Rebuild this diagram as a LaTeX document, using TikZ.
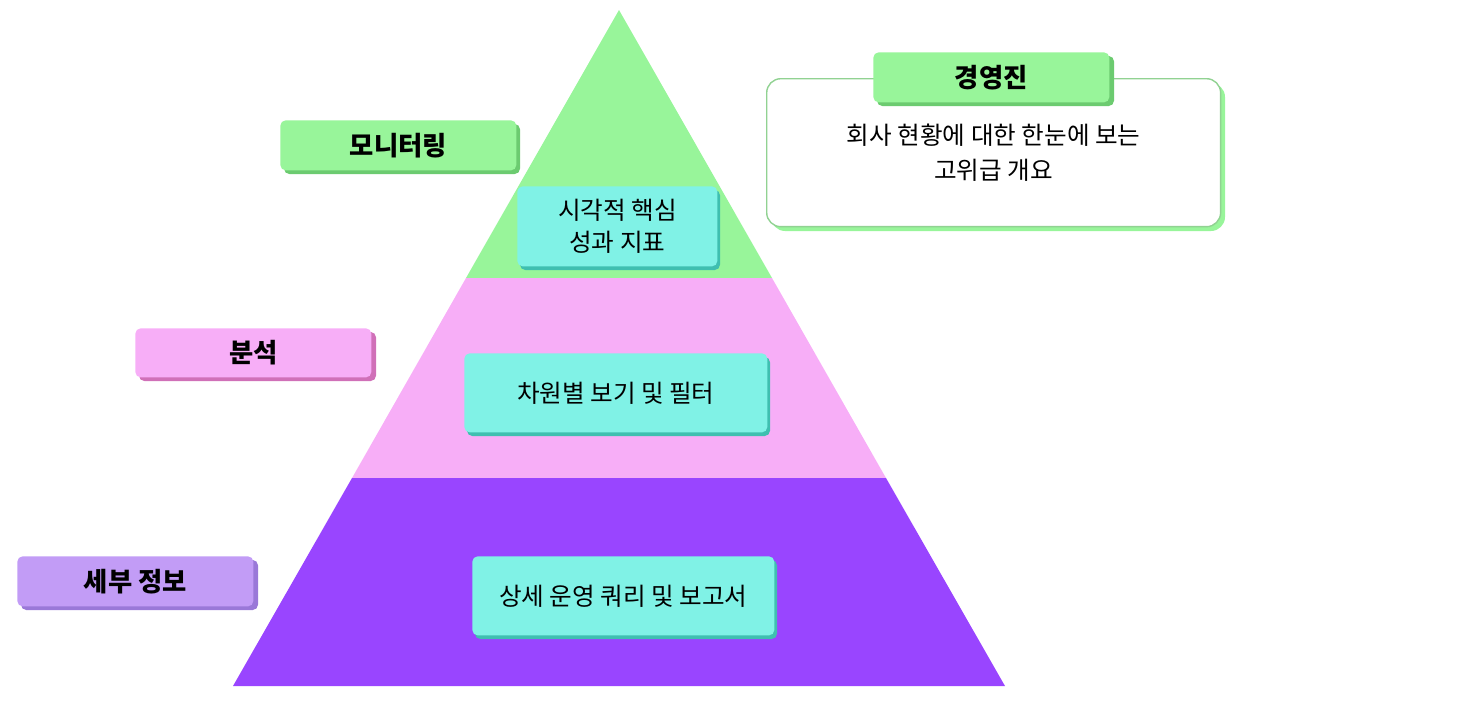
\documentclass[tikz,border=0pt]{standalone}
\usepackage{fontspec}
\setmainfont{Noto Sans CJK KR}
\usetikzlibrary{positioning}
\definecolor{lvgreen}{HTML}{98F59A}
\definecolor{lvpink}{HTML}{F7AEF7}
\definecolor{lvpurple}{HTML}{9945FF}
\definecolor{tagpurple}{HTML}{C29CF6}
\definecolor{boxcyan}{HTML}{80F2E6}
\definecolor{shcyan}{HTML}{3FBFB0}
\definecolor{shgreen}{HTML}{6CCB70}
\definecolor{shpink}{HTML}{D070B8}
\definecolor{shpurple}{HTML}{9A78D8}
\tikzset{
  tag/.style={draw=none, rounded corners=3pt, minimum width=4.72cm, minimum height=1cm, font=\fontsize{15}{18}\selectfont\bfseries},
  inbox/.style={fill=boxcyan, rounded corners=3pt, minimum width=4cm, minimum height=1.58cm, align=center, font=\fontsize{14}{18}\selectfont},
}
\begin{document}
\begin{tikzpicture}[x=0.02cm, y=-0.02cm]
  \useasboundingbox (0,0) rectangle (1472,704);
  % pyramid levels
  \fill[lvgreen] (619,10) -- (772,278) -- (466,278) -- cycle;
  \fill[lvpink] (466,278) -- (772,278) -- (886,478) -- (352,478) -- cycle;
  \fill[lvpurple] (352,478) -- (886,478) -- (1005,686) -- (233,686) -- cycle;

  % level tags
  \fill[shgreen, rounded corners=3pt] (284,124) rectangle (520,174);
  \node[tag, fill=lvgreen, anchor=north west] (monitor) at (280,120) {모니터링};
  \fill[shpink, rounded corners=3pt] (139,332) rectangle (376,381);
  \node[tag, fill=lvpink, anchor=north west, minimum height=0.98cm] (analysis) at (135,328) {분석};
  \fill[shpurple, rounded corners=3pt] (21,560) rectangle (258,610);
  \node[tag, fill=tagpurple, anchor=north west] (detail) at (17,556) {세부 정보};

  % content boxes
  \fill[shcyan, rounded corners=3pt] (520,190) rectangle (720,270);
  \node[inbox, anchor=north west, minimum width=4cm, minimum height=1.6cm] (kpi) at (517,186) {시각적 핵심\\성과 지표};
  \fill[shcyan, rounded corners=3pt] (467,357) rectangle (770,436);
  \node[inbox, anchor=north west, minimum width=6.06cm] (dim) at (464,353) {차원별 보기 및 필터};
  \fill[shcyan, rounded corners=3pt] (475,560) rectangle (777,639);
  \node[inbox, anchor=north west, minimum width=6.04cm] (query) at (472,556) {상세 운영 쿼리 및 보고서};

  % executive callout
  \fill[lvgreen, rounded corners=8pt] (771,83) rectangle (1225,231);
  \node[draw=lvgreen!70!gray, line width=0.8pt, fill=white, rounded corners=8pt, anchor=north west,
        minimum width=9.08cm, minimum height=2.96cm, align=center, font=\fontsize{14}{20}\selectfont] (exec) at (766,78)
        {회사 현황에 대한 한눈에 보는\\고위급 개요};
  \fill[shgreen, rounded corners=3pt] (877,56) rectangle (1114,106);
  \node[tag, fill=lvgreen, anchor=north west] (boss) at (873,52) {경영진};
\end{tikzpicture}
\end{document}
